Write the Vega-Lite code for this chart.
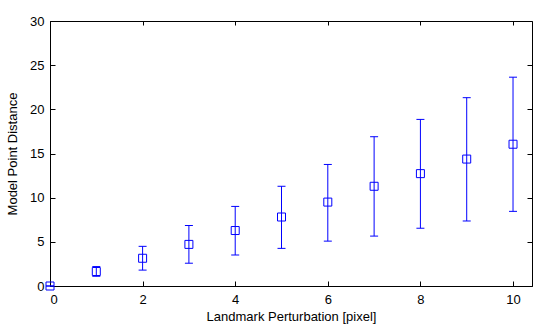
{
  "$schema": "https://vega.github.io/schema/vega-lite/v6.json",
  "autosize": {"type": "fit", "contains": "padding"},
  "width": 535,
  "height": 327,
  "padding": {"left": 6, "top": 15, "right": 2, "bottom": 4},
  "background": "white",
  "config": {
    "font": "Liberation Sans",
    "view": {"stroke": "black", "strokeWidth": 1},
    "axis": {"grid": false, "domainColor": "black", "tickColor": "black", "labelColor": "black", "titleColor": "black", "labelFont": "Liberation Sans", "titleFont": "Liberation Sans", "labelFontSize": 13, "titleFontSize": 13, "titleFontWeight": "normal", "domainWidth": 1, "tickWidth": 1}
  },
  "data": {"values": [
    {"x": 0, "mean": 0, "lo": 0, "hi": 0},
    {"x": 1, "mean": 1.64, "lo": 1.1, "hi": 2.2},
    {"x": 2, "mean": 3.14, "lo": 1.8, "hi": 4.49},
    {"x": 3, "mean": 4.71, "lo": 2.58, "hi": 6.85},
    {"x": 4, "mean": 6.28, "lo": 3.51, "hi": 9.01},
    {"x": 5, "mean": 7.81, "lo": 4.26, "hi": 11.29},
    {"x": 6, "mean": 9.5, "lo": 5.08, "hi": 13.76},
    {"x": 7, "mean": 11.29, "lo": 5.65, "hi": 16.9},
    {"x": 8, "mean": 12.72, "lo": 6.54, "hi": 18.86},
    {"x": 9, "mean": 14.37, "lo": 7.36, "hi": 21.32},
    {"x": 10, "mean": 16.05, "lo": 8.45, "hi": 23.64}
  ]},
  "resolve": {"axis": {"x": "independent", "y": "independent"}},
  "layer": [
    {
      "mark": {"type": "rule", "color": "#0000FF", "strokeWidth": 1},
      "encoding": {
        "x": {"field": "x", "type": "quantitative", "scale": {"domain": [0, 10.41], "nice": false, "zero": false},
          "axis": {"orient": "bottom", "values": [0, 2, 4, 6, 8, 10], "tickSize": -5, "labelPadding": 12, "title": "Landmark Perturbation [pixel]", "titlePadding": 4}},
        "y": {"field": "lo", "type": "quantitative", "scale": {"domain": [0, 30], "nice": false},
          "axis": {"orient": "left", "values": [0, 5, 10, 15, 20, 25, 30], "tickSize": -5, "labelPadding": 11, "title": "Model Point Distance", "titlePadding": 10}},
        "y2": {"field": "hi"}
      }
    },
    {
      "mark": {"type": "tick", "orient": "horizontal", "color": "#0000FF", "opacity": 1, "size": 8, "thickness": 1},
      "encoding": {
        "x": {"field": "x", "type": "quantitative", "axis": {"orient": "top", "values": [0, 2, 4, 6, 8, 10], "tickSize": -4, "labels": false, "title": null, "domain": false}},
        "y": {"field": "lo", "type": "quantitative", "axis": {"orient": "right", "values": [0, 5, 10, 15, 20, 25, 30], "tickSize": -5, "labels": false, "title": null, "domain": false}}
      }
    },
    {
      "mark": {"type": "tick", "orient": "horizontal", "color": "#0000FF", "opacity": 1, "size": 8, "thickness": 1},
      "encoding": {
        "x": {"field": "x", "type": "quantitative", "axis": null},
        "y": {"field": "hi", "type": "quantitative", "axis": null}
      }
    },
    {
      "mark": {"type": "point", "shape": "square", "filled": false, "stroke": "#0000FF", "size": 64, "strokeWidth": 1, "opacity": 1},
      "encoding": {
        "x": {"field": "x", "type": "quantitative", "axis": null},
        "y": {"field": "mean", "type": "quantitative", "axis": null}
      }
    }
  ]
}
